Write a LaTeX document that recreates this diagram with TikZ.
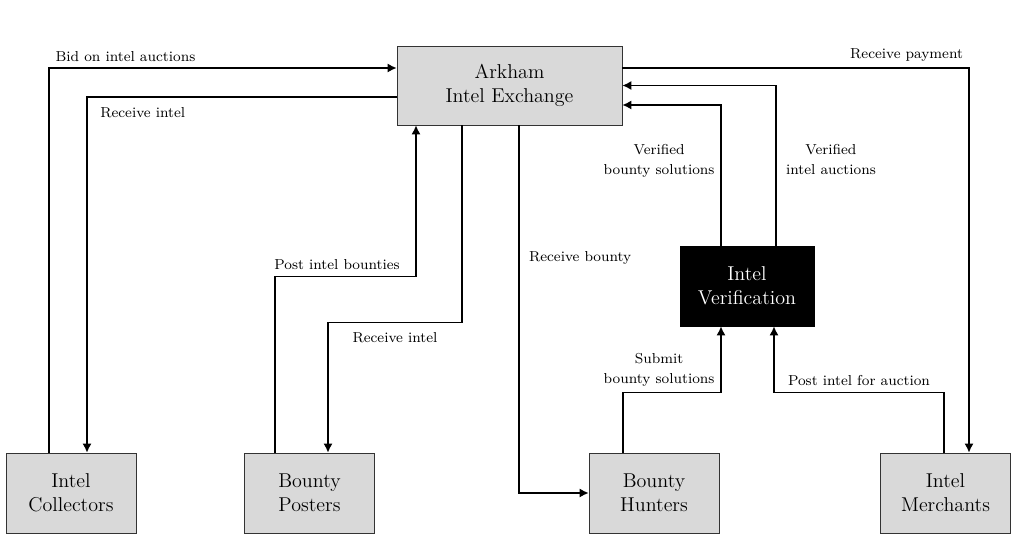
\documentclass[tikz,border=0pt]{standalone}
\usepackage{tikz}
\usetikzlibrary{positioning,arrows.meta,calc}

\begin{document}
\begin{tikzpicture}[->,>={Latex[length=1.8mm,width=1.8mm]},thick,
                    party/.style={draw=black!80,thin,fill=black!15,align=center,
                      font=\fontsize{11.4}{13.7}\selectfont,
                      minimum width=2.6cm,minimum height=1.6cm},
                    checker/.style={party,fill=black,draw=black,text=white,
                      minimum width=2.68cm},
                    lbl/.style={font=\fontsize{8.2}{11.4}\selectfont,align=center}]
  \useasboundingbox (0,0) rectangle (20.54,-11.04);

  \node[party, minimum width=4.5cm, minimum height=1.58cm] (ark) at (10.19,-1.71) {Arkham\\Intel Exchange};
  \node[checker] (ver) at (14.94,-5.72) {Intel\\Verification};
  \node[party] (col) at (1.42,-9.86) {Intel\\Collectors};
  \node[party] (pst) at (6.19,-9.86) {Bounty\\Posters};
  \node[party] (hun) at (13.08,-9.86) {Bounty\\Hunters};
  \node[party] (mer) at (18.91,-9.86) {Intel\\Merchants};

  % collectors
  \draw ([xshift=-0.44cm]col.north) |- node[lbl, pos=0.61, above] {Bid on intel auctions} ([yshift=0.35cm]ark.west);
  \draw ([yshift=-0.23cm]ark.west) -| node[lbl, pos=0.41, below=2pt] {Receive intel} ([xshift=0.32cm]col.north);

  % posters
  \draw ([xshift=-0.69cm]pst.north) -- ++(0,3.52) -| node[lbl, pos=0.22, above] {Post intel bounties} ([xshift=-1.87cm]ark.south);
  \draw ([xshift=-0.95cm]ark.south) -- ++(0,-3.94) -| node[lbl, pos=0.25, below=2pt] {Receive intel} ([xshift=0.37cm]pst.north);

  % hunters
  \draw ([xshift=0.19cm]ark.south) |- node[lbl, pos=0.18, right=2pt] {Receive bounty} (hun.west);
  \draw ([xshift=-0.62cm]hun.north) -- ++(0,1.2) -| node[lbl, pos=0.67, left] {Submit\\bounty solutions} ([xshift=-0.52cm]ver.south);

  % merchants
  \draw ([xshift=-0.03cm]mer.north) -- ++(0,1.2) -| node[lbl, pos=0.25, above] {Post intel for auction} ([xshift=0.54cm]ver.south);
  \draw ([yshift=0.35cm]ark.east) -| node[lbl, pos=0.41, above] {Receive payment} ([xshift=0.47cm]mer.north);

  % verification
  \draw ([xshift=-0.52cm]ver.north) |- node[lbl, pos=0.3, left] {Verified\\bounty solutions} ([yshift=-0.39cm]ark.east);
  \draw ([xshift=0.58cm]ver.north) |- node[lbl, pos=0.27, right=2pt] {Verified\\intel auctions} (ark.east);

\end{tikzpicture}
\end{document}
